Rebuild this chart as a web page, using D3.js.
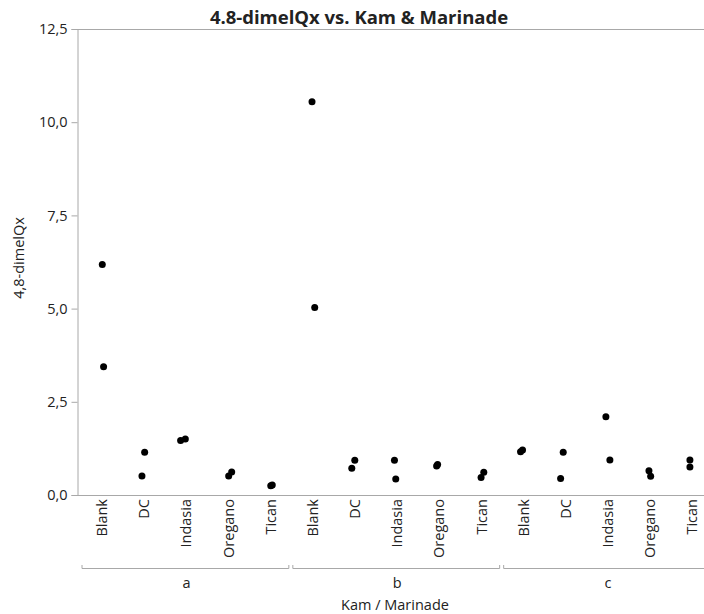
<!DOCTYPE html>
<html>
<head>
<meta charset="utf-8">
<script src="https://cdn.jsdelivr.net/npm/d3@7"></script>
<style>
  body { margin: 0; background: #fff; }
  text { font-family: "Open Sans", "Noto Sans", sans-serif; fill: #222; }
</style>
</head>
<body>
<div id="chart"></div>
<script>
// data
var groups = ["a", "b", "c"];
var marinades = ["Blank", "DC", "Indasia", "Oregano", "Tican"];
var valuesA = [[6.18, 3.44], [1.15, 0.51], [1.46, 1.50], [0.51, 0.62], [0.25, 0.27]];
var valuesB = [[10.55, 5.03], [0.93, 0.72], [0.93, 0.43], [0.78, 0.82], [0.61, 0.47]];
var valuesC = [[1.16, 1.21], [1.15, 0.44], [2.10, 0.94], [0.65, 0.50], [0.94, 0.75]];
var yTicks = [0, 2.5, 5, 7.5, 10, 12.5];

// small horizontal jitter per point (px), like the original plot
var jitter = [
    [[0.2, 1.5], [0.4, -2.3], [-5.8, -1.1], [0.1, 3.1], [0, 1.5]],
    [[-0.9, 1.8], [-0.3, -3.3], [-2.8, -1.5], [-2.8, -1.8], [2.2, -0.5]],
    [[-3.2, -1.2], [-2.7, -5.3], [-2.2, 1.8], [-1.3, 0.4], [-2.5, -2.5]]
];

var allValues = [valuesA, valuesB, valuesC];

// Set the dimensions for the graph
var width = 704, height = 614;
var margin = { top: 29, left: 78, bottom: 495, right: 713.5 };
var fontSize = "14.5px";

var svg = d3.select("#chart")
    .append("svg")
    .attr("width", width)
    .attr("height", height);

var keys = [];
groups.forEach(function(g) {
    marinades.forEach(function(m) { keys.push(g + "|" + m); });
});

var x = d3.scaleBand()
    .domain(keys)
    .range([81, margin.right]);

var y = d3.scaleLinear()
    .domain([0, 12.5])
    .range([margin.bottom, margin.top]);

var points = [];
groups.forEach(function(g, gi) {
    marinades.forEach(function(m, mi) {
        allValues[gi][mi].forEach(function(v, k) {
            points.push({ key: g + "|" + m, value: v, dx: jitter[gi][mi][k] });
        });
    });
});

// frame line on top
svg.append("line")
    .attr("x1", margin.left).attr("x2", width)
    .attr("y1", margin.top + 0.5).attr("y2", margin.top + 0.5)
    .attr("stroke", "#a8a8a8");

// y axis
var yAxis = d3.axisLeft(y)
    .tickValues(yTicks)
    .tickSize(6)
    .tickPadding(4)
    .tickFormat(function(d) { return d3.format(".1f")(d).replace(".", ","); });

var gy = svg.append("g")
    .attr("transform", "translate(" + (margin.left - 0.5) + ",0)")
    .call(yAxis);
gy.select(".domain").attr("stroke", "#a8a8a8");
gy.selectAll(".tick line").attr("stroke", "#a8a8a8");
gy.selectAll(".tick text")
    .attr("font-family", null)
    .attr("font-size", null)
    .style("font-size", fontSize)
    .attr("fill", "#222");

// x axis line
svg.append("line")
    .attr("x1", margin.left).attr("x2", width)
    .attr("y1", margin.bottom + 0.5).attr("y2", margin.bottom + 0.5)
    .attr("stroke", "#a8a8a8");

// category labels
svg.selectAll(".cat")
    .data(keys)
    .enter()
    .append("text")
    .attr("class", "cat")
    .attr("transform", function(d) {
        return "translate(" + (x(d) + x.bandwidth() / 2) + "," + (margin.bottom + 4) + ") rotate(-90)";
    })
    .attr("text-anchor", "end")
    .attr("dy", "0.35em")
    .style("font-size", fontSize)
    .text(function(d) { return d.split("|")[1]; });

// group brackets
var groupW = x.bandwidth() * marinades.length;
groups.forEach(function(g, gi) {
    var x0 = x(g + "|" + marinades[0]);
    var x1 = x0 + groupW;
    svg.append("path")
        .attr("d", "M" + (x0 + 1) + "," + 565 + "V" + 568.5 + "H" + (x1 - 3) + "V" + 565)
        .attr("fill", "none")
        .attr("stroke", "#a8a8a8");
    svg.append("text")
        .attr("x", (x0 + x1) / 2)
        .attr("y", 588)
        .attr("text-anchor", "middle")
        .style("font-size", fontSize)
        .text(g);
});

// points
svg.selectAll("circle")
    .data(points)
    .enter()
    .append("circle")
    .attr("cx", function(d) { return x(d.key) + x.bandwidth() / 2 + d.dx; })
    .attr("cy", function(d) { return y(d.value); })
    .attr("r", 3.5)
    .attr("fill", "#000");

// titles
svg.append("text")
    .attr("x", 359)
    .attr("y", 24)
    .attr("text-anchor", "middle")
    .style("font-size", "18.5px")
    .style("font-weight", "bold")
    .attr("fill", "#000")
    .text("4.8-dimelQx vs. Kam & Marinade");

svg.append("text")
    .attr("transform", "translate(19," + ((margin.top + margin.bottom) / 2 - 4) + ") rotate(-90)")
    .attr("text-anchor", "middle")
    .attr("dy", "0.35em")
    .style("font-size", fontSize)
    .text("4,8-dimelQx");

svg.append("text")
    .attr("x", 395)
    .attr("y", 610)
    .attr("text-anchor", "middle")
    .style("font-size", fontSize)
    .text("Kam / Marinade");
</script>
</body>
</html>
